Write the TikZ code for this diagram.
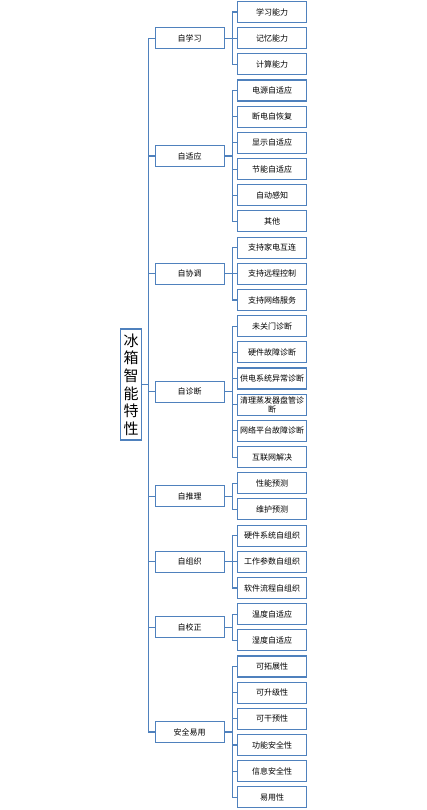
\documentclass[tikz,border=0pt]{standalone}
\usepackage{fontspec}
\setmainfont{Noto Sans CJK SC}
\definecolor{linkblue}{RGB}{79,129,189}

\begin{document}
\begin{tikzpicture}[
	x=1pt, y=-1pt,
	every node/.style={draw=linkblue, line width=1.1pt, rectangle, align=center, inner sep=0pt},
	rootbox/.style={minimum width=21pt, minimum height=111pt, font=\fontsize{15}{17.6}\selectfont},
	lvone/.style={minimum width=69.3pt, minimum height=21pt, font=\fontsize{8}{9}\selectfont},
	lvtwo/.style={minimum width=69.4pt, minimum height=21pt, font=\fontsize{8}{8.8}\selectfont},
	link/.style={draw=linkblue, line width=1.1pt}
	]

		\useasboundingbox (0,0) rectangle (426,810);

		% Nodes
		\node[rootbox] (root) at (131.2,384.5) {冰\\箱\\智\\能\\特\\性};
		\coordinate (trunk) at (148.7,384.5);

		\foreach \n/\first/\last/\txt in {study/1/3/自学习, adapt/4/9/自适应, coord/10/12/自协调,
			diag/13/18/自诊断, infer/19/20/自推理, organ/21/23/自组织, correct/24/25/自校正, safe/26/31/安全易用} {
			\node[lvone] (\n) at (189.7,{12+26.18*((\first+\last)/2-1)}) {\txt};
			\coordinate (\n-bus) at ([xshift=7.4pt]\n.east);
			\draw[link] (root.east) -| (trunk) |- (\n.west);
		}

		\foreach \i/\p/\txt in {1/study/学习能力, 2/study/记忆能力, 3/study/计算能力,
			4/adapt/电源自适应, 5/adapt/断电自恢复, 6/adapt/显示自适应, 7/adapt/节能自适应, 8/adapt/自动感知, 9/adapt/其他,
			10/coord/支持家电互连, 11/coord/支持远程控制, 12/coord/支持网络服务,
			13/diag/未关门诊断, 14/diag/硬件故障诊断, 15/diag/供电系统异常诊断, 16/diag/清理蒸发器盘管诊\\断, 17/diag/网络平台故障诊断, 18/diag/互联网解决,
			19/infer/性能预测, 20/infer/维护预测,
			21/organ/硬件系统自组织, 22/organ/工作参数自组织, 23/organ/软件流程自组织,
			24/correct/温度自适应, 25/correct/湿度自适应,
			26/safe/可拓展性, 27/safe/可升级性, 28/safe/可干预性, 29/safe/功能安全性, 30/safe/信息安全性, 31/safe/易用性} {
			\node[lvtwo] (leaf\i) at (272,{12+26.18*(\i-1)}) {\txt};
			\draw[link] (\p.east) -- (\p-bus) |- (leaf\i.west);
		}
	\end{tikzpicture}
\end{document}
